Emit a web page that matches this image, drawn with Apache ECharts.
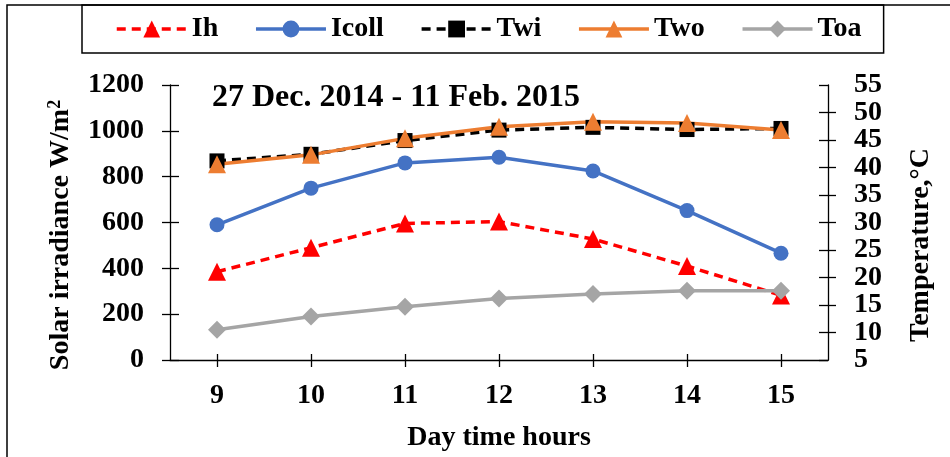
<!DOCTYPE html>
<html>
<head>
<meta charset="utf-8">
<script src="https://cdn.jsdelivr.net/npm/echarts@6/dist/echarts.min.js"></script>
<style>
  html, body { margin: 0; padding: 0; background: #fff; }
  #chart { width: 950px; height: 457px; }
</style>
</head>
<body>
<div id="chart"></div>
<script>
// Hourly means, 27 Dec. 2014 - 11 Feb. 2015
const hours = ['9', '10', '11', '12', '13', '14', '15'];
// Solar irradiance, W/m2 (left axis)
const ih = [385, 490, 596, 604, 528, 410, 282];
const icoll = [590, 750, 860, 885, 825, 652, 466];
// Temperatures, degC (right axis)
const twi = [41.2, 42.4, 44.9, 46.8, 47.3, 46.9, 47.1];
const two = [40.6, 42.3, 45.3, 47.4, 48.3, 48.1, 46.8];
const toa = [10.5, 12.9, 14.7, 16.2, 17.0, 17.6, 17.6];

const irrRange = { min: 0, max: 1200, interval: 200 };
const tempRange = { min: 5, max: 55, interval: 5 };

const FONT = '"Liberation Serif", "Times New Roman", serif';
const txt = (size) => ({ fontFamily: FONT, fontWeight: 'bold', fontSize: size, color: '#000' });
const axisLine = { show: true, lineStyle: { color: '#000', width: 1.3 } };

const chart = echarts.init(document.getElementById('chart'), null, { renderer: 'canvas' });

// Paired axes: one carries outward ticks and most labels, its twin the inward
// ticks (and, for the crowded temperature scale, the two end labels)
function valueAxis(range, position, inside, labelMode) {
  let axisLabel = { show: false };
  if (labelMode === 'all') {
    axisLabel = Object.assign(txt(28), { margin: 26, formatter: (v) => String(v) });
  } else if (labelMode === 'ends') {
    axisLabel = Object.assign(txt(28), {
      margin: 26,
      showMinLabel: true,
      showMaxLabel: true,
      formatter: (v) => (v === range.min || v === range.max) ? String(v) : ''
    });
  }
  return Object.assign({
    type: 'value',
    position: position,
    splitLine: { show: false },
    axisLine: inside ? { show: false } : axisLine,
    axisTick: { show: true, inside: inside, length: inside ? 9 : 8, lineStyle: { color: '#000', width: 1.3 } },
    axisLabel: axisLabel
  }, range);
}

function catAxis(inside) {
  return {
    type: 'category',
    data: hours,
    boundaryGap: true,
    position: 'bottom',
    axisLine: inside ? { show: false } : axisLine,
    axisTick: { show: true, inside: inside, alignWithLabel: true, length: inside ? 6 : 7, lineStyle: { color: '#000', width: 1.3 } },
    axisLabel: inside ? { show: false } : Object.assign(txt(28), { margin: 22 }),
    name: inside ? '' : 'Day time hours',
    nameLocation: 'middle',
    nameGap: 64,
    nameTextStyle: txt(28),
    splitLine: { show: false }
  };
}

const option = {
  animation: false,
  backgroundColor: '#fff',
  title: {
    text: '27 Dec. 2014 - 11 Feb. 2015',
    left: 212,
    top: 82,
    padding: 0,
    textStyle: txt(32)
  },
  legend: {
    data: ['Ih', 'Icoll', 'Twi', 'Two', 'Toa'],
    left: 82,
    top: 5,
    padding: [10, 22, 10, 33],
    itemGap: 36,
    itemWidth: 70,
    itemHeight: 21,
    borderColor: '#000',
    borderWidth: 1.5,
    borderRadius: 0,
    lineStyle: { width: 3.5 },
    textStyle: Object.assign(txt(28), { padding: [0, 0, 0, 0] })
  },
  grid: { left: 170, right: 122, top: 85, bottom: 97, containLabel: false },
  xAxis: [catAxis(false), catAxis(true)],
  yAxis: [
    valueAxis(irrRange, 'left', false, 'all'),
    valueAxis(tempRange, 'right', false, 'all'),
    valueAxis(irrRange, 'left', true, 'none'),
    valueAxis(tempRange, 'right', true, 'ends')
  ],
  series: [
    {
      name: 'Ih', type: 'line', data: ih, yAxisIndex: 0,
      symbol: 'triangle', symbolSize: 18,
      lineStyle: { color: '#FF0000', width: 3.5, type: [9, 6] },
      itemStyle: { color: '#FF0000' }
    },
    {
      name: 'Icoll', type: 'line', data: icoll, yAxisIndex: 0,
      symbol: 'circle', symbolSize: 15,
      lineStyle: { color: '#4472C4', width: 3.5 },
      itemStyle: { color: '#4472C4' }
    },
    {
      name: 'Twi', type: 'line', data: twi, yAxisIndex: 1,
      symbol: 'rect', symbolSize: 15,
      lineStyle: { color: '#000000', width: 3.5, type: [9, 6] },
      itemStyle: { color: '#000000' }
    },
    {
      name: 'Two', type: 'line', data: two, yAxisIndex: 1,
      symbol: 'triangle', symbolSize: 18,
      lineStyle: { color: '#ED7D31', width: 3.5 },
      itemStyle: { color: '#ED7D31' }
    },
    {
      name: 'Toa', type: 'line', data: toa, yAxisIndex: 1,
      symbol: 'diamond', symbolSize: 18,
      lineStyle: { color: '#A5A5A5', width: 3.5 },
      itemStyle: { color: '#A5A5A5' }
    }
  ],
  graphic: [
    {
      type: 'rect', silent: true, z: -10,
      shape: { x: 7, y: 5, width: 1000, height: 500 },
      style: { fill: 'none', stroke: '#000', lineWidth: 1.5 }
    },
    {
      type: 'text', silent: true,
      x: 61, y: 235, rotation: Math.PI / 2,
      style: {
        text: '{a|Solar irradiance W/m}{s|2}',
        align: 'center', verticalAlign: 'middle',
        fontFamily: FONT, fontWeight: 'bold', fontSize: 28, fill: '#000',
        rich: {
          a: { fontFamily: FONT, fontWeight: 'bold', fontSize: 28, lineHeight: 30, fill: '#000' },
          s: { fontFamily: FONT, fontWeight: 'bold', fontSize: 18, lineHeight: 30, verticalAlign: 'top', fill: '#000', padding: [0, 0, 10, 0] }
        }
      }
    },
    {
      type: 'text', silent: true,
      x: 921, y: 245, rotation: Math.PI / 2,
      style: {
        text: 'Temperature,\u00B0C',
        align: 'center', verticalAlign: 'middle',
        fontFamily: FONT, fontWeight: 'bold', fontSize: 28, fill: '#000'
      }
    }
  ]
};

chart.setOption(option);
</script>
</body>
</html>
